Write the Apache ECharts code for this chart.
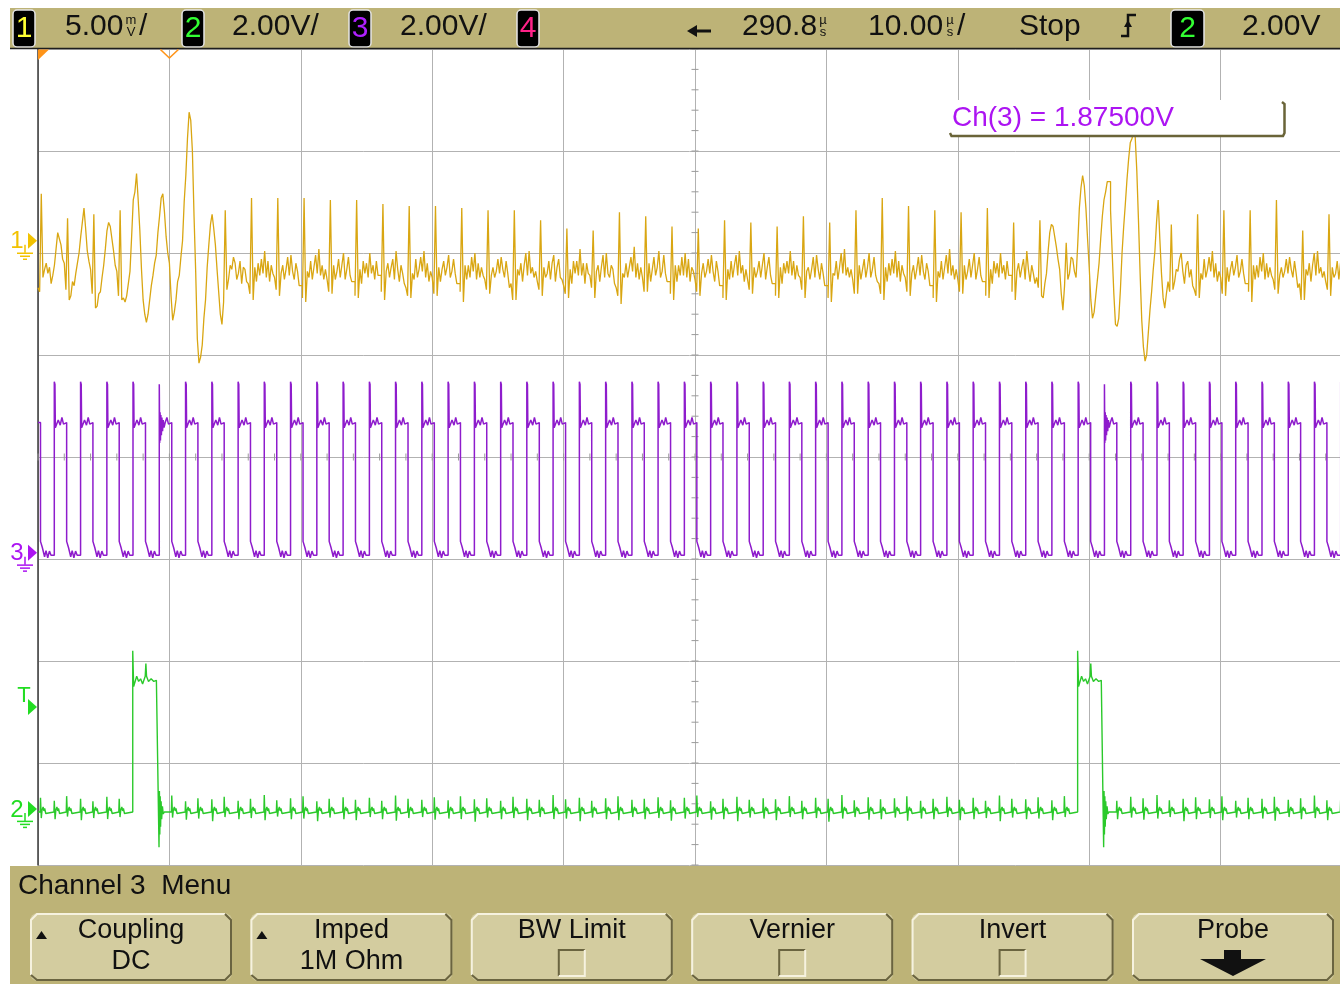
<!DOCTYPE html>
<html>
<head>
<meta charset="utf-8">
<title>Channel 3 Menu</title>
<script src="https://cdn.jsdelivr.net/npm/echarts@6/dist/echarts.min.js"></script>
<style>
  html, body { margin: 0; padding: 0; background: #ffffff; }
  #scope { width: 1340px; height: 984px; }
</style>
</head>
<body>
<div id="scope"></div>
<script>
// ---- acquisition settings -------------------------------------------------
const timePerDivUs = 10;          // 10.00 us/div
const sampleUs = 0.125;           // spacing of the stored channel-1 samples
const ch1MvPerDiv = 5;            // channel 1: 5.00 mV/div
const ch1OffsetMv = -10.6;        // screen-centre value of channel 1
const ch2VPerDiv = 2;             // channel 2: 2.00 V/div
const ch2OffsetV = 6.9;
const ch3VPerDiv = 2;             // channel 3: 2.00 V/div
const ch3OffsetV = 1.875;         // Ch(3) = 1.87500V
const triggerLevelV = 2.0;        // trigger on channel 2, 2.00 V

// ---- header / menu texts ---------------------------------------------------
const headerScales = ['5.00', '2.00V/', '2.00V/'];
const headerDelay = '290.8';
const headerTimebase = '10.00';
const headerRun = 'Stop';
const headerTrigLevel = '2.00V';
const menuTitle = 'Channel 3  Menu';
const menuButtons = [
  ['Coupling', 'DC', 'up'],
  ['Imped', '1M Ohm', 'up'],
  ['BW Limit', '', 'box'],
  ['Vernier', '', 'box'],
  ['Invert', '', 'box'],
  ['Probe', '', 'arrow']
];

// ---- channel 1 (mV): 16 samples per row, one row = 2 us --------------------
const ch1Mv = [
  [-2.3, -2.5, 2.3, -1.8, -1.4, -1.1, -1.6, -1.3, -2.1, -1.7, -1.2, -0.4, 0.4, 0.1, -0.2, -0.9],
  [-1.1, -2.4, 1.1, -2.9, -2.7, -2.0, -2.2, -1.6, -1.1, -0.6, 0.2, 0.9, 1.6, 0.6, -0.5, -1.0],
  [-1.4, -2.6, 1.3, -3.3, -3.2, -2.6, -2.5, -1.8, -1.2, -0.4, 0.5, 0.9, 0.7, 0.1, -0.5, -1.2],
  [-1.5, -2.7, 1.5, -2.9, -2.8, -3.0, -2.7, -2.1, -1.5, 0.2, 2.0, 2.4, 3.3, 2.0, 0.5, -1.4],
  [-2.9, -3.6, -4.0, -3.6, -2.9, -2.2, -1.7, -1.1, -0.7, 0.4, 1.2, 2.1, 2.3, 1.4, 0.2, -0.6],
  [-1.1, -2.7, -3.9, -3.5, -2.9, -2.0, -1.7, -0.8, 0.0, 1.9, 3.2, 5.0, 6.3, 5.9, 4.4, 1.2],
  [-1.5, -4.8, -6.0, -5.7, -5.1, -3.8, -2.9, -1.3, -0.2, 0.8, 1.3, 0.6, -0.2, -1.4, -2.5, -3.6],
  [-4.1, -3.0, 1.5, -2.4, -1.9, -1.2, -1.4, -0.8, -1.1, -1.9, -1.6, -1.0, -2.1, -1.3, -1.4, -2.0],
  [-2.1, -2.6, 2.1, -2.9, -1.3, -2.0, -1.1, -1.7, -0.9, -1.6, -0.5, -1.8, -1.0, -2.0, -1.2, -1.6],
  [-1.8, -2.4, 2.1, -2.7, -1.6, -1.2, -1.9, -1.4, -0.8, -1.7, -0.7, -1.5, -1.9, -1.1, -1.5, -2.2],
  [-2.2, -2.8, 2.1, -3.0, -1.5, -1.8, -1.0, -1.9, -1.3, -0.7, -1.6, -0.4, -1.7, -1.2, -1.9, -1.4],
  [-1.9, -2.5, 2.0, -2.6, -1.2, -1.9, -1.5, -0.9, -1.8, -1.2, -0.6, -1.9, -1.4, -0.8, -1.7, -2.0],
  [-2.0, -2.7, 2.0, -2.8, -1.4, -2.1, -1.0, -1.6, -1.1, -1.8, -0.6, -1.6, -1.2, -1.9, -1.0, -1.7],
  [-1.7, -2.5, 1.8, -2.9, -1.5, -1.1, -1.8, -1.3, -0.9, -1.9, -0.5, -1.4, -2.0, -1.2, -1.6, -2.1],
  [-2.3, -2.7, 1.7, -2.8, -1.6, -1.9, -0.9, -1.8, -1.4, -0.8, -1.5, -0.5, -1.8, -1.1, -2.0, -1.5],
  [-1.8, -2.6, 1.7, -2.7, -1.3, -2.0, -1.4, -1.0, -1.7, -1.3, -0.7, -1.8, -1.5, -0.9, -1.6, -2.1],
  [-2.1, -2.5, 1.6, -3.0, -1.2, -1.9, -1.2, -1.8, -0.8, -1.5, -0.6, -1.9, -1.1, -1.8, -1.3, -1.7],
  [-1.9, -2.4, 1.5, -2.6, -1.7, -1.3, -1.8, -1.5, -0.9, -1.6, -0.8, -1.4, -1.8, -1.0, -1.6, -2.3],
  [-2.1, -2.9, 1.5, -2.9, -1.4, -1.7, -1.1, -2.0, -1.2, -0.6, -1.7, -0.5, -1.6, -1.3, -1.8, -1.5],
  [-2.0, -2.4, 1.0, -2.7, -1.3, -1.8, -1.6, -1.0, -1.9, -1.1, -0.7, -2.0, -1.3, -0.9, -1.8, -1.9],
  [-2.2, -2.6, 0.6, -2.8, -1.4, -2.1, -1.0, -1.6, -1.0, -1.7, -0.4, -1.7, -1.1, -2.1, -1.1, -1.6],
  [-1.7, -2.3, 0.5, -2.8, -1.5, -1.2, -2.0, -1.3, -0.7, -1.8, -0.6, -1.6, -1.8, -1.2, -1.4, -2.1],
  [-2.3, -2.7, 1.4, -3.1, -1.6, -1.8, -1.1, -1.8, -1.3, -0.8, -1.5, -0.3, -1.8, -1.1, -1.9, -1.3],
  [-1.8, -2.5, 1.2, -2.5, -1.1, -2.0, -1.4, -0.8, -1.7, -1.3, -0.5, -1.8, -1.5, -0.7, -1.6, -2.0],
  [-2.0, -2.6, 0.7, -2.9, -1.2, -2.0, -1.2, -1.7, -0.8, -1.7, -0.6, -1.8, -0.9, -2.0, -1.3, -1.5],
  [-1.9, -2.5, 0.6, -2.7, -1.6, -1.1, -1.8, -1.5, -0.9, -1.6, -0.7, -1.5, -2.0, -1.0, -1.5, -2.2],
  [-2.2, -2.8, 1.0, -2.9, -1.4, -1.9, -1.0, -1.8, -1.2, -0.7, -1.7, -0.5, -1.6, -1.2, -2.0, -1.4],
  [-1.9, -2.4, 0.9, -2.6, -1.3, -1.8, -1.5, -1.0, -1.8, -1.2, -0.6, -1.9, -1.3, -0.8, -1.7, -2.1],
  [-2.1, -2.7, 0.7, -2.8, -1.3, -2.1, -1.1, -1.6, -1.0, -1.6, -0.5, -1.7, -1.0, -1.9, -1.2, -1.7],
  [-1.8, -2.4, 1.2, -2.8, -1.5, -1.3, -1.9, -1.4, -0.8, -1.8, -0.7, -1.4, -1.9, -1.1, -1.6, -2.2],
  [-2.2, -2.8, 0.9, -3.0, -1.6, -1.7, -1.0, -1.9, -1.3, -0.6, -1.6, -0.4, -1.7, -1.3, -1.8, -1.4],
  [-1.9, -2.6, 1.5, -2.6, -1.2, -1.9, -1.4, -0.9, -1.8, -1.3, -0.6, -1.8, -1.4, -0.8, -1.7, -2.0],
  [-2.1, -2.6, 2.1, -2.9, -1.3, -2.0, -1.1, -1.7, -0.9, -1.6, -0.5, -1.8, -1.0, -2.0, -1.2, -1.6],
  [-1.8, -2.5, 1.7, -2.7, -1.6, -1.2, -1.9, -1.4, -0.8, -1.7, -0.7, -1.5, -1.9, -1.1, -1.5, -2.2],
  [-2.2, -2.8, 1.5, -3.0, -1.5, -1.8, -1.0, -1.9, -1.3, -0.7, -1.6, -0.4, -1.7, -1.2, -1.9, -1.4],
  [-1.9, -2.5, 1.4, -2.6, -1.2, -1.9, -1.5, -0.9, -1.8, -1.2, -0.6, -1.9, -1.4, -0.8, -1.7, -2.0],
  [-2.0, -2.7, 1.6, -2.8, -1.4, -2.1, -1.0, -1.6, -1.1, -1.8, -0.6, -1.6, -1.2, -1.9, -1.0, -1.7],
  [-1.7, -2.5, 0.9, -2.9, -1.5, -1.1, -1.8, -1.3, -0.9, -1.9, -0.5, -1.4, -2.0, -1.2, -1.6, -2.1],
  [-1.8, -2.3, 1.0, -2.7, -2.8, -2.1, -1.6, -0.5, 0.4, 0.8, 0.7, 0.2, -0.3, -0.9, -1.4, -2.6],
  [-3.4, -2.2, -0.1, -1.9, -1.6, -0.8, -0.9, -1.5, -1.8, -0.2, 1.6, 2.6, 3.2, 2.7, 1.6, 0.1],
  [-1.3, -2.9, -3.8, -3.5, -2.7, -1.9, -1.1, 0.1, 1.2, 2.0, 2.4, 2.9, 2.9, 1.5, -0.6, -2.6],
  [-4.1, -4.2, -3.8, -2.4, -0.6, 0.7, 1.8, 3.0, 4.0, 4.8, 5.0, 5.3, 5.1, 3.4, 1.0, -1.6],
  [-3.9, -5.2, -5.9, -5.6, -4.5, -3.4, -2.5, -1.4, -0.5, 0.9, 2.0, 0.1, -1.6, -2.8, -3.3, -2.6],
  [-2.0, -2.5, 0.8, -2.4, -2.0, -1.4, -1.5, -0.9, -0.6, -1.5, -2.1, -1.2, -1.0, -1.8, -1.4, -2.2],
  [-2.4, -2.7, 1.3, -2.8, -1.6, -1.9, -0.9, -1.8, -1.4, -0.8, -1.5, -0.5, -1.8, -1.1, -2.0, -1.5],
  [-1.8, -2.6, 1.5, -2.7, -1.3, -2.0, -1.4, -1.0, -1.7, -1.3, -0.7, -1.8, -1.5, -0.9, -1.6, -2.1],
  [-2.1, -2.5, 1.5, -3.0, -1.2, -1.9, -1.2, -1.8, -0.8, -1.5, -0.6, -1.9, -1.1, -1.8, -1.3, -1.7],
  [-1.9, -2.4, 2.0, -2.6, -1.7, -1.3, -1.8, -1.5, -0.9, -1.6, -0.8, -1.4, -1.8, -1.0, -1.6, -2.3],
  [-2.1, -2.9, 0.5, -2.9, -1.4, -1.7, -1.1, -2.0, -1.2, -0.6, -1.7, -0.5, -1.6, -1.3, -1.8, -1.5],
  [-2.0, -2.4, 1.3, -2.7, -1.3, -1.8, -1.6, -1.0, -1.9, -1.1, -0.7, -2.0, -1.3, -0.9, -1.8, -1.9]
];

// ---- channel 3 (V): clock edges in us and the shape after each edge --------
const ch3Fall = [0.19, 2.18, 4.18, 6.18, 8.18, 10.18, 12.17, 14.17, 16.17, 18.17,
  20.17, 22.16, 24.16, 26.16, 28.16, 30.16, 32.15, 34.15, 36.15, 38.15,
  40.15, 42.14, 44.14, 46.14, 48.14, 50.14, 52.13, 54.13, 56.13, 58.13,
  60.13, 62.12, 64.12, 66.12, 68.12, 70.12, 72.11, 74.11, 76.11, 78.11,
  80.11, 82.10, 84.10, 86.10, 88.10, 90.10, 92.09, 94.09, 96.09, 98.09];
const ch3Rise = [1.24, 3.24, 5.24, 7.23, 9.23, 11.23, 13.23, 15.23, 17.22, 19.22,
  21.22, 23.22, 25.22, 27.21, 29.21, 31.21, 33.21, 35.21, 37.20, 39.20,
  41.20, 43.20, 45.20, 47.19, 49.19, 51.19, 53.19, 55.19, 57.18, 59.18,
  61.18, 63.18, 65.18, 67.17, 69.17, 71.17, 73.17, 75.17, 77.16, 79.16,
  81.16, 83.16, 85.16, 87.15, 89.15, 91.15, 93.15, 95.15, 97.14, 99.14];
const ch3StartV = 2.55;
const ch3LowShape = [[0, 0.22], [0.12, 0.22], [0.14, 0.1], [0.28, 0.1], [0.31, -0.08],
  [0.42, 0.04], [0.55, -0.1], [0.68, 0.03], [0.8, -0.05]];
const ch3HighShape = [[0, 3.35], [0.05, 3.3], [0.08, 2.45], [0.22, 2.45], [0.3, 2.6],
  [0.45, 2.5], [0.58, 2.65], [0.7, 2.52], [0.85, 2.55]];
const ch3RingShape = [[0, 3.3], [0.03, 2.15], [0.06, 2.75], [0.09, 2.2], [0.12, 2.7],
  [0.16, 2.3], [0.2, 2.65], [0.25, 2.38], [0.3, 2.6], [0.36, 2.45], [0.45, 2.55],
  [0.58, 2.65], [0.7, 2.52], [0.85, 2.55]];
const ch3RingingRises = [9.23, 81.16];

// ---- channel 2 (V): baseline, gate pulses and the small clock-edge blips ----
const ch2BaseV = -0.06;
const ch2Pulses = [[7.21, 9.21], [79.12, 81.1]];   // [rise, fall] in us
const ch2PulseHigh = [[0, 3.1], [0.04, 3.1], [0.07, 2.4], [0.2, 2.4], [0.3, 2.6], [0.45, 2.5],
  [0.6, 2.55], [0.75, 2.45], [0.95, 2.6], [1.0, 2.85], [1.05, 2.6], [1.2, 2.5], [1.4, 2.55],
  [1.6, 2.5], [1.8, 2.52], [1.95, 2.5]];
const ch2Undershoot = [[0, -0.75], [0.03, 0.35], [0.06, -0.5], [0.09, 0.25], [0.12, -0.35],
  [0.16, 0.15], [0.2, -0.2], [0.26, 0.05], [0.32, -0.1], [0.4, -0.06]];
// settling after each blip, relative to the baseline
const ch2BlipTail = [[0.12, 0.04], [0.2, 0.1], [0.26, 0.02], [0.32, 0.07], [0.4, -0.03], [0.5, 0]];
// [peak, dip] at each clock edge, in edge order (fall, rise, fall, rise ...)
const ch2EdgeBlips = [
  [0.22, -0.18], [0.16, -0.2], [0.25, -0.15], [0.2, -0.22], [0.15, -0.18], [0.24, -0.2],
  [0.2, -0.16], [0.18, -0.2], [0.22, -0.25], [0.18, -0.2], [0.26, -0.17], [0.15, -0.21],
  [0.21, -0.19], [0.19, -0.24], [0.24, -0.16], [0.16, -0.2], [0.2, -0.18], [0.27, -0.22],
  [0.17, -0.15], [0.21, -0.2], [0.25, -0.19], [0.15, -0.24], [0.2, -0.17], [0.23, -0.2],
  [0.18, -0.22], [0.22, -0.16], [0.16, -0.2], [0.26, -0.23], [0.2, -0.18], [0.18, -0.16],
  [0.23, -0.21], [0.17, -0.19], [0.25, -0.2], [0.19, -0.25], [0.21, -0.17], [0.16, -0.2],
  [0.24, -0.18], [0.2, -0.22], [0.18, -0.16], [0.27, -0.2], [0.19, -0.19], [0.22, -0.24],
  [0.16, -0.17], [0.21, -0.2], [0.25, -0.22], [0.18, -0.16], [0.2, -0.2], [0.23, -0.18],
  [0.17, -0.23], [0.22, -0.19], [0.26, -0.16], [0.15, -0.21], [0.2, -0.2], [0.24, -0.24],
  [0.18, -0.17], [0.21, -0.19], [0.19, -0.22], [0.25, -0.16], [0.16, -0.2], [0.22, -0.18],
  [0.2, -0.25], [0.27, -0.19], [0.17, -0.16], [0.23, -0.21], [0.19, -0.2], [0.21, -0.17],
  [0.25, -0.23], [0.16, -0.19], [0.2, -0.2], [0.24, -0.16], [0.18, -0.22], [0.22, -0.2],
  [0.16, -0.18], [0.26, -0.24], [0.2, -0.17], [0.19, -0.2], [0.23, -0.19], [0.17, -0.22],
  [0.25, -0.16], [0.2, -0.2], [0.18, -0.18], [0.22, -0.23], [0.16, -0.2], [0.24, -0.17],
  [0.21, -0.21], [0.27, -0.19], [0.17, -0.16], [0.2, -0.24], [0.23, -0.2], [0.19, -0.18],
  [0.25, -0.22], [0.16, -0.17], [0.22, -0.2], [0.2, -0.19], [0.24, -0.23], [0.18, -0.16],
  [0.21, -0.2], [0.26, -0.18], [0.17, -0.22], [0.2, -0.19]
];

// ---- build series points ----------------------------------------------------
const ch1Points = ch1Mv.flat().map((v, i) => [i * sampleUs, v]);

const ch3Points = [[0, ch3StartV]];
const clockEdges = [];
ch3Fall.forEach((tf, k) => {
  clockEdges.push(tf);
  ch3Points.push([tf, ch3Points[ch3Points.length - 1][1]]);
  ch3LowShape.forEach(([dt, v]) => ch3Points.push([tf + dt, v]));
  const tr = ch3Rise[k];
  if (tr === undefined) return;
  clockEdges.push(tr);
  ch3Points.push([tr, ch3LowShape[ch3LowShape.length - 1][1]]);
  const shape = ch3RingingRises.includes(tr) ? ch3RingShape : ch3HighShape;
  shape.forEach(([dt, v]) => ch3Points.push([tr + dt, v]));
});

const ch2Events = clockEdges.map((t, k) => ({ t: t, blip: ch2EdgeBlips[k] }))
  .concat(ch2Pulses.map(([r, f]) => ({ t: r, pulse: [r, f] })))
  .sort((a, b) => a.t - b.t);
const ch2Points = [[0, ch2BaseV]];
ch2Events.forEach(ev => {
  if (ev.pulse) {
    const [r, f] = ev.pulse;
    ch2Points.push([r, ch2BaseV]);
    ch2PulseHigh.forEach(([dt, v]) => { if (r + dt < f) ch2Points.push([r + dt, v]); });
    ch2Points.push([f, ch2PulseHigh[ch2PulseHigh.length - 1][1]]);
    ch2Undershoot.forEach(([dt, v]) => ch2Points.push([f + dt, v]));
    return;
  }
  const busy = ch2Pulses.some(([r, f]) => ev.t > r - 0.15 && ev.t < f + 0.5);
  if (busy || !ev.blip) return;
  ch2Points.push([ev.t - 0.03, ch2BaseV], [ev.t, ev.blip[0]], [ev.t + 0.06, ev.blip[1]]);
  ch2BlipTail.forEach(([dt, dv]) => ch2Points.push([ev.t + dt, ch2BaseV + dv]));
});
ch2Points.push([10 * timePerDivUs, ch2BaseV]);

// ---- colours / fonts --------------------------------------------------------
const FONT = '"Liberation Sans", Arial, sans-serif';
const TAN = '#bdb377';
const BTN = '#d3cc9f';
const C1 = '#d9a612', C1M = '#f2c200';
const C2 = '#2bc92b', C2M = '#22dd22';
const C3 = '#8e1ccc', C3M = '#ac14f2';
const ORANGE = '#ff9418';
const GRIDC = '#b2b2b2';

function rangeAxis(offset, perDiv) {
  return { type: 'value', show: false, min: offset - 4 * perDiv, max: offset + 4 * perDiv,
    splitLine: { show: false } };
}

const chart = echarts.init(document.getElementById('scope'), null, { renderer: 'canvas', width: 1340, height: 984 });

chart.setOption({
  animation: false,
  backgroundColor: '#ffffff',
  grid: { left: 38, top: 49, width: 1314, height: 816, show: false, outerBoundsMode: 'none', containLabel: false },
  xAxis: {
    type: 'value', min: 0, max: 10 * timePerDivUs, interval: timePerDivUs,
    axisLine: { show: false }, axisTick: { show: false }, axisLabel: { show: false },
    splitLine: { show: true, lineStyle: { color: GRIDC, width: 1 } }
  },
  yAxis: [
    {
      type: 'value', min: -4, max: 4, interval: 1,
      axisLine: { show: true, onZero: false, lineStyle: { color: '#3a3a3a', width: 1.5 } },
      axisTick: { show: false }, axisLabel: { show: false },
      splitLine: { show: true, lineStyle: { color: GRIDC, width: 1 } }
    },
    rangeAxis(ch1OffsetMv, ch1MvPerDiv),
    rangeAxis(ch2OffsetV, ch2VPerDiv),
    rangeAxis(ch3OffsetV, ch3VPerDiv)
  ],
  series: [
    { type: 'line', name: 'Ch1', yAxisIndex: 1, data: ch1Points, step: 'end', symbol: 'none',
      silent: true, lineStyle: { color: C1, width: 1.3 }, z: 3 },
    { type: 'line', name: 'Ch3', yAxisIndex: 3, data: ch3Points, symbol: 'none',
      silent: true, lineStyle: { color: C3, width: 1.5 }, z: 4 },
    { type: 'line', name: 'Ch2', yAxisIndex: 2, data: ch2Points, symbol: 'none',
      silent: true, lineStyle: { color: C2, width: 1.4 }, z: 5 }
  ]
});

// ---- overlay: header, menu, markers ------------------------------------------
const px = (yIdx, t, v) => chart.convertToPixel({ xAxisIndex: 0, yAxisIndex: yIdx }, [t, v]);
const G = [];
function text(s, x, y, size, color, align, extra) {
  G.push(Object.assign({ type: 'text', x: x, y: y, z: 100, silent: true,
    style: { text: s, font: size + 'px ' + FONT, fill: color, align: align || 'left',
      verticalAlign: 'middle', textAlign: align || 'left', textVerticalAlign: 'middle' } }, extra || {}));
}
function rect(x, y, w, h, fill, stroke, lw, r) {
  G.push({ type: 'rect', z: 99, silent: true, shape: { x: x, y: y, width: w, height: h, r: r || 0 },
    style: { fill: fill, stroke: stroke || null, lineWidth: lw || 0 } });
}
function poly(points, stroke, lw, z) {
  G.push({ type: 'polyline', z: z || 100, silent: true, shape: { points: points },
    style: { stroke: stroke, lineWidth: lw, fill: null } });
}
function polygon(points, fill, stroke, lw) {
  G.push({ type: 'polygon', z: 100, silent: true, shape: { points: points },
    style: { fill: fill, stroke: stroke || null, lineWidth: lw || 0 } });
}

// header bar
rect(10, 8, 1330, 40, TAN);
poly([[10, 48.5], [1340, 48.5]], '#1e1e1e', 1.5);
function chanBox(x, w, label, color) {
  rect(x, 10, w, 37, '#000000', '#e6e6e6', 1.5, 4);
  text(label, x + w / 2, 29, 30, color, 'center');
}
chanBox(13, 22, '1', '#ffff33');
text(headerScales[0], 65, 27, 30, '#111');
text('m', 131, 20, 13, '#111', 'center');
text('V', 131, 32, 13, '#111', 'center');
text('/', 139, 27, 30, '#111');
chanBox(182, 22, '2', '#33ff33');
text(headerScales[1], 232, 27, 30, '#111');
chanBox(349, 22, '3', '#b020ff');
text(headerScales[2], 400, 27, 30, '#111');
chanBox(517, 22, '4', '#ff2288');
// delay arrow
poly([[694, 31], [711, 31]], '#111', 3);
polygon([[687, 31], [697, 25], [697, 37]], '#111');
text(headerDelay, 742, 27, 30, '#111');
text('µ', 823, 20, 13, '#111', 'center');
text('s', 823, 32, 13, '#111', 'center');
text(headerTimebase, 868, 27, 30, '#111');
text('µ', 950, 20, 13, '#111', 'center');
text('s', 950, 32, 13, '#111', 'center');
text('/', 957, 27, 30, '#111');
text(headerRun, 1019, 27, 30, '#111');
// rising-edge trigger symbol
poly([[1121, 36], [1128, 36], [1128, 15], [1136, 15]], '#111', 2.5);
polygon([[1124, 27], [1132, 27], [1128, 20]], '#111');
chanBox(1171, 33, '2', '#33ff33');
text(headerTrigLevel, 1242, 27, 30, '#111');

// menu bar
rect(10, 866, 1330, 118, TAN);
text(menuTitle, 18, 886, 28, '#111');
menuButtons.forEach(([l1, l2, kind], k) => {
  const bx = 30 + k * 220.4, by = 913, bw = 202, bh = 68;
  rect(bx, by, bw, bh, BTN, null, 0, 8);
  poly([[bx + 1, by + bh - 6], [bx + 1, by + 7], [bx + 7, by + 1], [bx + bw - 7, by + 1]], '#f6f2df', 2);
  poly([[bx + bw - 7, by + 1], [bx + bw - 1, by + 7], [bx + bw - 1, by + bh - 7],
    [bx + bw - 7, by + bh - 1], [bx + 7, by + bh - 1], [bx + 1, by + bh - 6]], '#6a6440', 2);
  const cx = bx + bw / 2;
  text(l1, cx, 931, 27, '#111', 'center');
  if (l2) text(l2, cx, 962, 27, '#111', 'center');
  if (kind === 'up') polygon([[bx + 6, 939], [bx + 17, 939], [bx + 11.5, 931]], '#111');
  if (kind === 'box') {
    rect(cx - 13, 950, 26, 26, BTN);
    poly([[cx - 13, 976], [cx - 13, 950], [cx + 13, 950]], '#6a6440', 2);
    poly([[cx + 13, 950], [cx + 13, 976], [cx - 13, 976]], '#f6f2df', 2);
  }
  if (kind === 'arrow') {
    polygon([[cx - 9, 950], [cx + 8, 950], [cx + 8, 959], [cx + 33, 959], [cx, 976],
      [cx - 33, 959], [cx - 9, 959]], '#111');
  }
});

// channel 3 offset readout
rect(949, 100, 336, 36, '#ffffff');
poly([[950, 133], [951.5, 136], [1283, 136], [1284.5, 133], [1284.5, 104], [1282, 102]], '#6a6438', 2.5);
text('Ch(3) = ' + ch3OffsetV.toFixed(5) + 'V', 952, 118, 28, C3M);

// time-reference markers
polygon([[38, 49.5], [49, 49.5], [38, 60]], ORANGE);
const tref = px(0, 10, 0)[0];
poly([[tref - 9, 49.5], [tref, 58], [tref + 9, 49.5]], ORANGE, 1.6);

// ground markers from each channel's zero
function groundMarker(label, yIdx, color) {
  const y = px(yIdx, 0, 0)[1];
  text(label, 17, y + 1, 24, color, 'center');
  polygon([[28, y - 8], [37, y], [28, y + 8]], color);
  poly([[25, y + 4], [25, y + 12]], color, 1.5);
  poly([[17, y + 12.5], [33, y + 12.5]], color, 1.5);
  poly([[20, y + 15.5], [30, y + 15.5]], color, 1.5);
  poly([[23, y + 18.5], [27, y + 18.5]], color, 1.5);
}
groundMarker('1', 1, C1M);
groundMarker('3', 3, C3M);
groundMarker('2', 2, C2M);
// trigger level marker
const ty = px(2, 0, triggerLevelV)[1];
text('T', 24, ty - 11, 22, C2M, 'center');
polygon([[28, ty - 8], [37, ty], [28, ty + 8]], C2M);

// centre-line minor ticks (5 per division)
const [cx0, cy0] = px(0, 5 * timePerDivUs, 0);
for (let d = -4; d <= 4.001; d += 0.2) {
  const y = px(0, 0, d)[1];
  poly([[cx0 - 3.5, y], [cx0 + 3.5, y]], '#9a9a9a', 1, 1);
}
for (let t = 0; t <= 10 * timePerDivUs + 0.01; t += timePerDivUs / 5) {
  const x = px(0, t, 0)[0];
  poly([[x, cy0 - 3.5], [x, cy0 + 3.5]], '#9a9a9a', 1, 1);
}

chart.setOption({ graphic: G });
</script>
</body>
</html>
